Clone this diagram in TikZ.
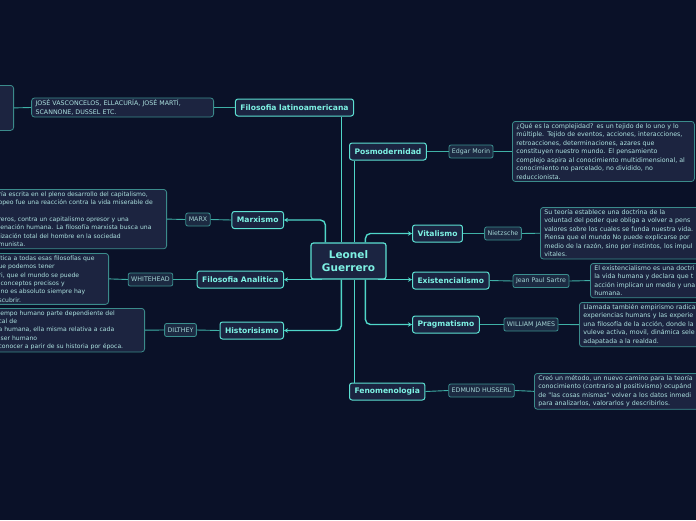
\documentclass[tikz,border=0pt]{standalone}
\usepackage{fontspec}
\usepackage{tikz}
\usetikzlibrary{arrows.meta}
\newfontfamily\mapfont{DejaVu Sans}
\definecolor{bgnavy}{HTML}{0A1128}
\definecolor{boxfill}{HTML}{1B2441}
\definecolor{topicline}{HTML}{5CE0D2}
\definecolor{topictext}{HTML}{7EF2E4}
\definecolor{trunkcol}{HTML}{4FD6C8}
\definecolor{twigcol}{HTML}{3FB0A6}
\definecolor{tagfill}{HTML}{1C2A42}
\definecolor{tagline}{HTML}{3A8E8E}
\definecolor{tagtext}{HTML}{A4D4D4}
\definecolor{notefill}{HTML}{1C2440}
\definecolor{noteline}{HTML}{3B8B8B}
\definecolor{notetext}{HTML}{ADE2E0}

\begin{document}
\begin{tikzpicture}[x=1pt,y=-1pt,
  topic/.style={draw=topicline,fill=boxfill,line width=1pt,rounded corners=2.5pt,text=topictext,
    font=\mapfont\bfseries\fontsize{7.6}{9}\selectfont,inner xsep=5pt,inner ysep=0pt,minimum height=17pt},
  hub/.style={topic,font=\mapfont\bfseries\fontsize{10.5}{12.5}\selectfont,align=center,
    minimum width=75pt,minimum height=36pt,line width=1.2pt},
  tag/.style={draw=tagline,fill=tagfill,line width=0.8pt,rounded corners=2pt,text=tagtext,
    font=\mapfont\fontsize{6.3}{7}\selectfont,inner xsep=3pt,inner ysep=0pt,minimum height=13pt},
  note/.style={draw=noteline,fill=notefill,line width=0.8pt,rounded corners=3pt,text=notetext,
    font=\mapfont\fontsize{6.3}{8.5}\selectfont,align=left,inner xsep=4pt,inner ysep=2pt},
  leftnote/.style={note,anchor=north east,font=\mapfont\fontsize{6.1}{8.4}\selectfont},
  trunk/.style={draw=trunkcol,line width=1.4pt,rounded corners=5pt},
  twig/.style={draw=twigcol,line width=0.9pt}]
\fill[bgnavy] (0,0) rectangle (696,520);
\useasboundingbox (0,0) rectangle (696,520);

% centre and topics
\node[hub] (hub) at (348.5,261) {Leonel\\Guerrero};
\node[topic] (latin) at (294.5,107.5) {Filosofia latinoamericana};
\node[topic,anchor=west] (posmo) at (349,151.5) {Posmodernidad};
\node[topic,anchor=east] (marx) at (284,220) {Marxismo};
\node[topic,anchor=east] (anal) at (284,279.5) {Filosofia Analitica};
\node[topic,anchor=east] (histo) at (284,330.5) {Historisismo};
\node[topic,anchor=west] (feno) at (349,391.5) {Fenomenologia};
\node[topic,anchor=west] (vital) at (412,233.5) {Vitalismo};
\node[topic,anchor=west] (exist) at (412,280.5) {Existencialismo};
\node[topic,anchor=west] (prag) at (412,324.5) {Pragmatismo};

% authors
\node[tag] (marxtag) at (198,219.5) {MARX};
\node[tag] (whitetag) at (150.5,279.5) {WHITEHEAD};
\node[tag] (diltag) at (180.5,330) {DILTHEY};
\node[tag] (morintag) at (471,151.5) {Edgar Morin};
\node[tag] (nietztag) at (503,233.5) {Nietzsche};
\node[tag] (sartretag) at (541,281) {Jean Paul Sartre};
\node[tag] (jamestag) at (531,324.5) {WILLIAM JAMES};
\node[tag] (husstag) at (481.5,390.5) {EDMUND HUSSERL};

% notes
\node[note,anchor=east,text width=174pt] (latinnote) at (214,107.5)
  {JOSÉ VASCONCELOS, ELLACURÍA, JOSÉ MARTÍ,\\SCANNONE, DUSSEL ETC.};
\node[note,anchor=north east,minimum width=60pt,minimum height=45pt] (latinfar) at (14,85) {};
\node[leftnote,text width=164pt] (marxnote) at (167,189)
  {ría escrita en el pleno desarrollo del capitalismo,\\
   opeo fue una reacción contra la vida miserable de\\
   \mbox{}\\
   reros, contra un capitalismo opresor y una\\
   jenación humana. La filosofía marxista busca una\\
   lización total del hombre en la sociedad\\
   munista.};
\node[leftnote,text width=106pt] (analnote) at (109,253)
  {ítica a todas esas filosofías que\\
   ue podemos tener\\
   ri, que el mundo se puede\\
   \ conceptos precisos y\\
   \ no es absoluto siempre hay\\
   scubrir.};
\node[leftnote,text width=142pt] (histnote) at (145,308)
  {iempo humano parte dependiente del\\
   cal de\\
   a humana, ella misma relativa a cada\\
   \ ser humano\\
   conocer a parir de su historia por época.};
\node[note,anchor=north west,text width=174pt] (posmonote) at (512,121)
  {¿Qué es la complejidad? es  un tejido de lo uno y lo\\
   múltiple.  Tejido de eventos, acciones, interacciones,\\
   retroacciones, determinaciones, azares que\\
   constituyen nuestro mundo. El pensamiento\\
   complejo aspira al conocimiento multidimensional, al\\
   conocimiento no parcelado, no dividido, no\\
   reduccionista.};
\node[note,anchor=north west,text width=200pt] (vitalnote) at (540,207)
  {Su teoría establece una doctrina de la\\
   voluntad del poder que obliga a  volver a pens\\
   valores sobre los cuales se funda nuestra vida.\\
   Piensa que el mundo No puede explicarse por\\
   medio de la razón, sino por instintos, los impul\\
   vitales.};
\node[note,anchor=north west,text width=160pt] (existnote) at (590,263)
  {El existencialismo es una doctri\\
   la vida humana y declara que t\\
   acción implican un medio y una\\
   humana.};
\node[note,anchor=north west,text width=170pt] (pragnote) at (579,302)
  {Llamada también empirismo radica\\
   experiencias humans y las experie\\
   una filosofía de la acción, donde la\\
   vuleve activa, movil, dinámica sele\\
   adapatada a la realdad.};
\node[note,anchor=north west,text width=200pt] (fenonote) at (534,373)
  {Creó un método, un nuevo camino para la teoría\\
   conocimiento (contrario al positivismo) ocupánd\\
   de "las cosas mismas" volver a los datos inmedi\\
   para analizarlos, valorarlos y describirlos.};

% hub anchors
\coordinate (hubA) at ([xshift=31pt]hub.north west);
\coordinate (hubB) at ([xshift=44pt]hub.north west);
\coordinate (hubM) at ([xshift=15pt]hub.north west);
\coordinate (hubF) at ([xshift=55pt]hub.north west);
\coordinate (hubC) at ([xshift=12pt]hub.south west);
\coordinate (hubD) at ([xshift=31pt]hub.south west);
\coordinate (hubE) at ([xshift=44pt]hub.south west);
\coordinate (hubH) at ([xshift=55pt]hub.south west);
\coordinate (hubG) at ([xshift=-9pt]hub.south east);

% trunks
\draw[trunk] (hubA) -- (hubA |- latin.south);
\draw[trunk] (hubB) -- (hubB |- posmo.south);
\draw[trunk,-{Stealth[length=4pt,width=4.5pt]}] (hubM) |- (marx.east);
\draw[trunk,-{Stealth[length=4pt,width=4.5pt]}] (hubC) -- (hubC -| anal.east);
\draw[trunk,-{Stealth[length=4pt,width=4.5pt]}] (hubD) |- (histo.east);
\draw[trunk] (hubE) -- (hubE |- feno.north);
\draw[trunk,-{Stealth[length=4pt,width=4.5pt]}] (hubF) |- (vital.west);
\draw[trunk,-{Stealth[length=4pt,width=4.5pt]}] (hubG) -- (hubG -| exist.west);
\draw[trunk,-{Stealth[length=4pt,width=4.5pt]}] (hubH) |- (prag.west);

% twigs
\draw[twig] (latin.west) -- (latinnote.east);
\draw[twig] (latinnote.west) -- (latinfar.east);
\draw[twig] (marx.west) -- (marxtag.east);
\draw[twig] (marxtag.west) -- (marxnote.east);
\draw[twig] (anal.west) -- (whitetag.east);
\draw[twig] (whitetag.west) -- (analnote.east);
\draw[twig] (histo.west) -- (diltag.east);
\draw[twig] (diltag.west) -- (histnote.east);
\draw[twig] (posmo.east) -- (morintag.west);
\draw[twig] (morintag.east) -- (posmonote.west);
\draw[twig] (vital.east) -- (nietztag.west);
\draw[twig] (nietztag.east) -- (vitalnote.west);
\draw[twig] (exist.east) -- (sartretag.west);
\draw[twig] (sartretag.east) -- (existnote.west);
\draw[twig] (prag.east) -- (jamestag.west);
\draw[twig] (jamestag.east) -- (pragnote.west);
\draw[twig] (feno.east) -- (husstag.west);
\draw[twig] (husstag.east) -- (fenonote.west);
\end{tikzpicture}
\end{document}
